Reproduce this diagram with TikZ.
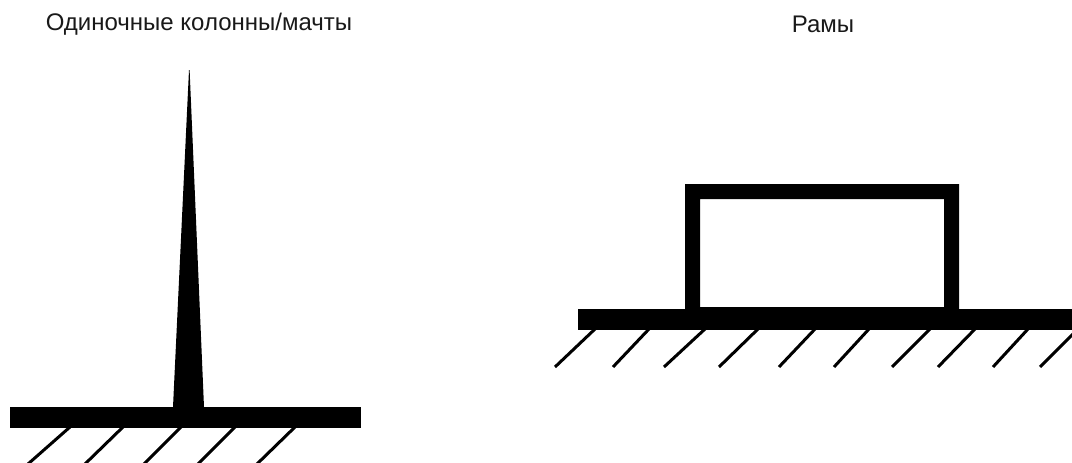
\documentclass[tikz,border=0pt]{standalone}
\usepackage{fontspec}
\setmainfont{Liberation Sans}
\tikzset{
  solidpart/.style={fill=black,draw=none},
  hatchline/.style={draw=black,line width=3pt},
  caption/.style={inner sep=0pt,font=\fontsize{24}{28}\selectfont,text=black!90}
}
\begin{document}
\begin{tikzpicture}[x=1pt,y=-1pt]
\useasboundingbox (0,0) rectangle (1072,463);
\fill[white] (0,0) rectangle (1072,463);
\node[caption] (leftcap) at (199,24) {Одиночные колонны/мачты};
\node[caption] (rightcap) at (823,24) {Рамы};
% left: mast
\fill[solidpart] (10,407) rectangle (361,428);
\fill[solidpart] (189,70) -- (189.6,70) -- (204,407) -- (173,407) -- cycle;
\foreach \a/\b in {70/28,123/85,181/144,235/198,295/257}
  \draw[hatchline] (\a,427) -- (\b,464);
% right: frame
\fill[solidpart] (578,309) rectangle (1072,330);
\fill[solidpart,even odd rule] (685,184) rectangle (959,310) (700,199) rectangle (944,307);
\begin{scope}
\clip (0,0) rectangle (1072,463);
\foreach \a/\b in {595/555,649/613,705/664,758/719,815/779,869/834,930/892,975/938,1028/993,1078/1040}
  \draw[hatchline] (\a,329) -- (\b,367);
\end{scope}
\end{tikzpicture}
\end{document}
